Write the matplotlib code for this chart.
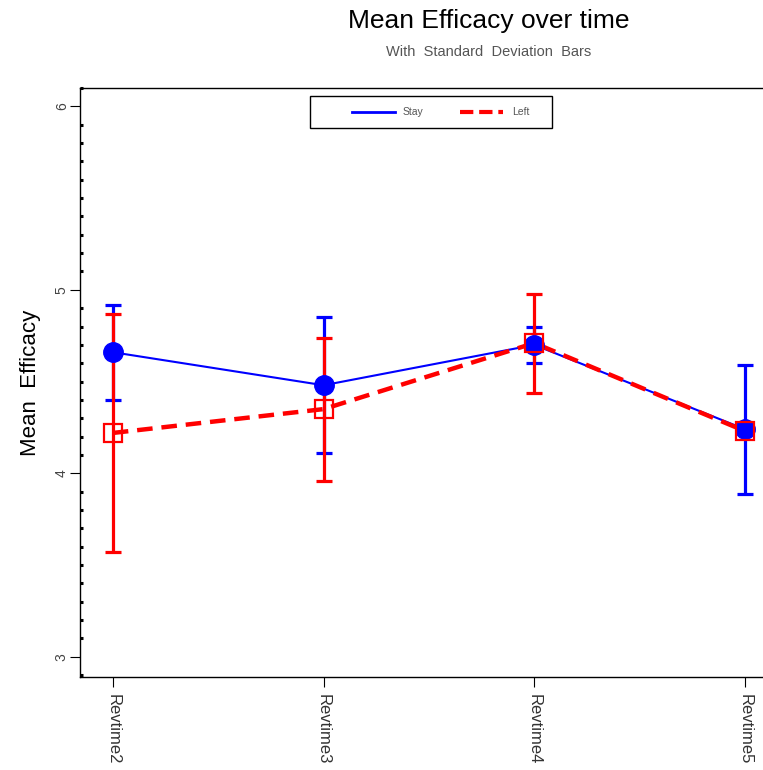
import numpy as np
import matplotlib
matplotlib.use("Agg")
import matplotlib.pyplot as plt
from matplotlib.ticker import MultipleLocator
from matplotlib.patches import Rectangle
from matplotlib.lines import Line2D

plt.rcParams['font.family'] = ['Liberation Sans', 'DejaVu Sans']

times = ["Revtime2", "Revtime3", "Revtime4", "Revtime5"]
stay_mean = [4.66, 4.48, 4.70, 4.24]
stay_sd = [0.26, 0.37, 0.10, 0.35]
left_mean = [4.22, 4.35, 4.71, 4.23]
left_sd = [0.65, 0.39, 0.27, np.nan]

fig = plt.figure(figsize=(7.63, 7.70), dpi=100)
ax = fig.add_axes([0.1048, 0.1208, 0.8952, 0.7649])
x = np.arange(len(times))

# stay series: thin solid blue, filled circles
ax.plot(x, stay_mean, color='blue', lw=1.5, zorder=2)
ax.errorbar(x, stay_mean, yerr=stay_sd, fmt='none', ecolor='blue',
            elinewidth=2.3, capsize=6, capthick=2.3, zorder=3)
ax.plot(x, stay_mean, 'o', color='blue', markersize=14, zorder=5)

# left series: thick dashed red, open squares
ax.plot(x, left_mean, color='red', lw=3.2, dashes=(3.5, 2.0), zorder=2.5)
ax.errorbar(x, left_mean, yerr=left_sd, fmt='none', ecolor='red',
            elinewidth=2.3, capsize=6, capthick=2.3, zorder=4)
ax.plot(x, left_mean, 's', mfc='none', mec='red', mew=1.6,
        markersize=13, zorder=6)

ax.set_xlim(-0.156, 3.085)
ax.set_ylim(2.89, 6.10)
ax.set_xticks(x)
ax.set_xticklabels(times, rotation=-90, fontsize=12, color='#333333')
ax.set_yticks([3, 4, 5, 6])
ax.set_yticklabels(['3', '4', '5', '6'], rotation=90, va='center',
                   fontsize=10, color='#444444')
ax.yaxis.set_minor_locator(MultipleLocator(0.1))
ax.tick_params(axis='x', which='major', direction='out', length=7,
               width=0.8, pad=5)
ax.tick_params(axis='y', which='major', direction='out', length=7,
               width=0.8, pad=1)
ax.tick_params(axis='y', which='minor', direction='in', length=2.5, width=2.2)
ax.spines['right'].set_visible(False)
for s in ['left', 'top', 'bottom']:
    ax.spines[s].set_linewidth(1.0)

ax.set_ylabel('Mean  Efficacy', fontsize=16, labelpad=10)

fig.text(0.640, 0.973, 'Mean Efficacy over time', ha='center', va='center',
         fontsize=19)
fig.text(0.640, 0.933, 'With  Standard  Deviation  Bars', ha='center',
         va='center', fontsize=10.5, color='#555555')

# legend box drawn by hand to match the original layout
fig.patches.append(Rectangle((0.4063, 0.8338), 0.3172, 0.0415, fill=False,
                             edgecolor='black', lw=1.0,
                             transform=fig.transFigure, zorder=10))
fig.lines.append(Line2D([0.4613, 0.5177], [0.8545, 0.8545], color='blue',
                        lw=2, transform=fig.transFigure))
fig.lines.append(Line2D([0.6029, 0.6592], [0.8545, 0.8545], color='red',
                        lw=3, dashes=(3.2, 1.4), transform=fig.transFigure))
fig.text(0.5282, 0.8545, 'Stay', fontsize=7.5, color='#555555', va='center')
fig.text(0.6710, 0.8545, 'Left', fontsize=7.5, color='#555555', va='center')

fig.savefig('out.png', dpi=100)
